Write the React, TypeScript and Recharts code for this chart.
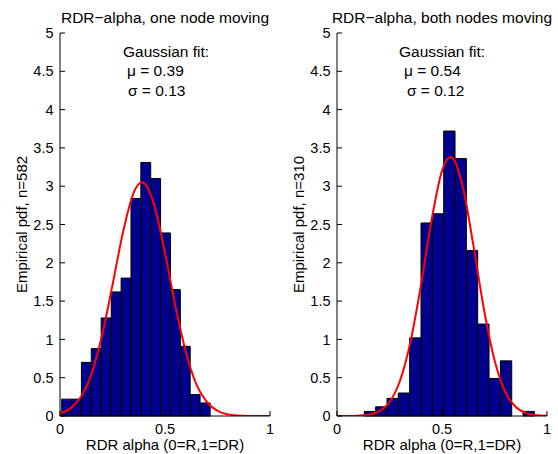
import { ComposedChart, XAxis, YAxis, Line, ReferenceArea } from "recharts";

const FONT = "'Liberation Sans', Arial, Helvetica, sans-serif";

const xTicks = [0, 0.5, 1];
const yTicks = [0, 0.5, 1, 1.5, 2, 2.5, 3, 3.5, 4, 4.5, 5];

// histogram bin edges + heights
const leftEdges = [0.008, 0.055, 0.102, 0.149, 0.196, 0.244, 0.291, 0.338, 0.385, 0.432, 0.479, 0.526, 0.573, 0.62, 0.667, 0.715];
const leftHeights = [0.22, 0.22, 0.7, 0.88, 1.28, 1.62, 1.8, 2.84, 3.31, 3.1, 2.39, 1.65, 0.91, 0.28, 0.17];

const rightEdges = [0.13, 0.184, 0.238, 0.292, 0.346, 0.4, 0.454, 0.508, 0.562, 0.616, 0.67, 0.724, 0.778, 0.832, 0.886, 0.94];
const rightHeights = [0.06, 0.12, 0.23, 0.3, 1.02, 2.52, 2.64, 3.72, 3.36, 2.16, 1.2, 0.49, 0.72, 0, 0.06];

// gaussian fit curves
const leftFitX = [0, 0.05, 0.1, 0.15, 0.2, 0.25, 0.3, 0.35, 0.39, 0.4, 0.45, 0.5, 0.55, 0.6, 0.65, 0.7, 0.75, 0.8, 0.85, 0.9, 0.95, 1];
const leftFitY = [0.034, 0.1, 0.25, 0.55, 1.05, 1.71, 2.4, 2.91, 3.05, 3.04, 2.74, 2.13, 1.43, 0.83, 0.41, 0.18, 0.066, 0.021, 0.005, 0.001, 0, 0];

const rightFitX = [0, 0.05, 0.1, 0.15, 0.2, 0.25, 0.3, 0.35, 0.4, 0.45, 0.5, 0.54, 0.55, 0.6, 0.65, 0.7, 0.75, 0.8, 0.85, 0.9, 0.95, 1];
const rightFitY = [0, 0.001, 0.004, 0.017, 0.061, 0.18, 0.46, 0.97, 1.71, 2.55, 3.2, 3.38, 3.37, 2.98, 2.22, 1.39, 0.73, 0.32, 0.12, 0.038, 0.01, 0.002];

interface PanelProps {
  edges: number[];
  heights: number[];
  fitX: number[];
  fitY: number[];
  marginLeft: number;
  marginRight: number;
}

function Panel({ edges, heights, fitX, fitY, marginLeft, marginRight }: PanelProps) {
  const fit = fitX.map((x, i) => ({ x, y: fitY[i] }));
  const tickStyle = { fill: "#000", fontSize: 14.5, fontFamily: FONT };
  return (
    <ComposedChart
      width={279}
      height={454}
      margin={{ top: 33, right: marginRight, bottom: 8, left: marginLeft }}
    >
      <XAxis
        type="number"
        dataKey="x"
        domain={[0, 1]}
        ticks={xTicks}
        interval={0}
        allowDataOverflow
        height={30}
        tickSize={-5}
        tickMargin={12.7}
        tick={tickStyle}
        stroke="#000"
      />
      <XAxis
        xAxisId="top"
        orientation="top"
        type="number"
        domain={[0, 1]}
        ticks={xTicks}
        interval={0}
        height={0}
        tickSize={-5}
        tickFormatter={() => ""}
        stroke="#000"
      />
      <YAxis
        type="number"
        domain={[0, 5]}
        ticks={yTicks}
        interval={0}
        allowDataOverflow
        width={40}
        tickSize={-5}
        tickMargin={11.5}
        tick={tickStyle}
        stroke="#000"
      />
      <YAxis
        yAxisId="right"
        orientation="right"
        type="number"
        domain={[0, 5]}
        ticks={yTicks}
        interval={0}
        width={0}
        tickSize={-5}
        tickFormatter={() => ""}
        stroke="#000"
      />
      {heights.map((h, i) => (
        <ReferenceArea
          key={i}
          x1={edges[i]}
          x2={edges[i + 1]}
          y1={0}
          y2={h}
          fill="#00008F"
          fillOpacity={1}
          stroke="#000"
          strokeWidth={1}
          ifOverflow="visible"
        />
      ))}
      <Line
        data={fit}
        dataKey="y"
        type="monotone"
        stroke="#FF0000"
        strokeWidth={2}
        dot={false}
        activeDot={false}
        isAnimationActive={false}
      />
    </ComposedChart>
  );
}

export default function App() {
  return (
    <div style={{ position: "absolute", left: 0, top: 0, width: 558, height: 454, background: "#fff" }}>
      <div style={{ position: "absolute", left: 0, top: 0 }}>
        <Panel edges={leftEdges} heights={leftHeights} fitX={leftFitX} fitY={leftFitY} marginLeft={20} marginRight={9} />
      </div>
      <div style={{ position: "absolute", left: 279, top: 0 }}>
        <Panel edges={rightEdges} heights={rightHeights} fitX={rightFitX} fitY={rightFitY} marginLeft={18} marginRight={11} />
      </div>
      <svg
        width={558}
        height={454}
        style={{ position: "absolute", left: 0, top: 0, pointerEvents: "none" }}
        fontFamily={FONT}
        fill="#000"
      >
        {/* left panel texts */}
        <text x={165} y={22.7} fontSize={15.5} textAnchor="middle">RDR−alpha, one node moving</text>
        <text x={123} y={56.5} fontSize={15.5}>Gaussian fit:</text>
        <text x={127} y={76} fontSize={15.5}>μ = 0.39</text>
        <text x={128} y={95.5} fontSize={15.5}>σ = 0.13</text>
        <text x={165} y={450} fontSize={15} textAnchor="middle">RDR alpha (0=R,1=DR)</text>
        <text x={26.5} y={224.5} fontSize={15} textAnchor="middle" transform="rotate(-90 26.5 224.5)">
          Empirical pdf, n=582
        </text>

        {/* right panel texts */}
        <text x={442} y={22.7} fontSize={15.5} textAnchor="middle">RDR−alpha, both nodes moving</text>
        <text x={399} y={56.5} fontSize={15.5}>Gaussian fit:</text>
        <text x={404} y={76} fontSize={15.5}>μ = 0.54</text>
        <text x={407} y={95.5} fontSize={15.5}>σ = 0.12</text>
        <text x={442} y={450} fontSize={15} textAnchor="middle">RDR alpha (0=R,1=DR)</text>
        <text x={303.5} y={224.5} fontSize={15} textAnchor="middle" transform="rotate(-90 303.5 224.5)">
          Empirical pdf, n=310
        </text>
      </svg>
    </div>
  );
}
